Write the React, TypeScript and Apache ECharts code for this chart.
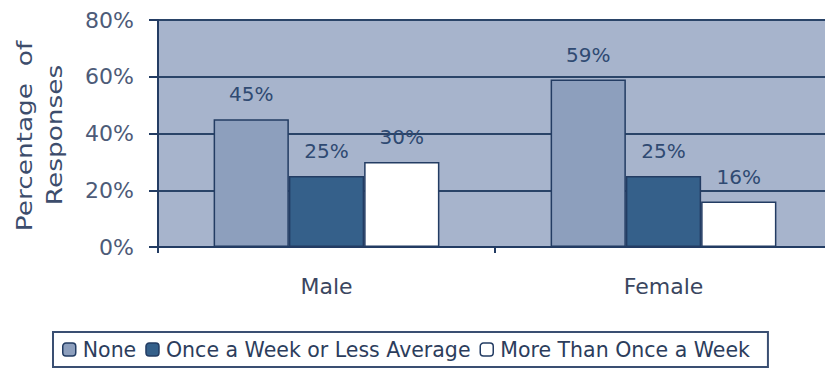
import React, { useEffect, useRef } from "react";
import * as echarts from "echarts";

const categories = ["Male", "Female"];
const seriesNames = ["None", "Once a Week or Less Average", "More Than Once a Week"];
const noneValues = [45, 59];
const onceValues = [25, 25];
const moreValues = [30, 16];
const yTicks = [0, 20, 40, 60, 80];

const FONT = "DejaVu Sans";
const NAVY = "#233c63";

export default function App() {
  const ref = useRef<HTMLDivElement>(null);
  useEffect(() => {
    if (!ref.current) return;
    const chart = echarts.init(ref.current, null, { renderer: "svg" });
    const colors = ["#8d9fbd", "#35608a", "#ffffff"];
    const data = [noneValues, onceValues, moreValues];
    chart.setOption({
      animation: false,
      backgroundColor: "#ffffff",
      grid: {
        left: 158,
        top: 20,
        width: 674,
        height: 227,
        show: true,
        backgroundColor: "#a7b4cc",
        borderWidth: 0,
      },
      legend: {
        bottom: 2,
        left: 53,
        itemWidth: 13,
        itemHeight: 13,
        itemGap: 9,
        padding: [7, 18, 7, 9],
        borderColor: "#3a4f72",
        borderWidth: 2,
        borderRadius: 0,
        textStyle: { fontFamily: FONT, fontSize: 20.5, color: "#2c3d5c", padding: [0, 0, 0, 2] },
        data: seriesNames.map((n, i) => ({
          name: n,
          itemStyle: { color: colors[i], borderColor: NAVY, borderWidth: 1.5 },
        })),
      },
      xAxis: {
        type: "category",
        data: categories,
        axisLine: { show: true, lineStyle: { color: NAVY, width: 2 } },
        axisTick: { show: true, length: 6, lineStyle: { color: NAVY, width: 2 } },
        axisLabel: { fontFamily: FONT, fontSize: 22, color: "#3a4660", margin: 28 },
      },
      yAxis: {
        type: "value",
        min: 0,
        max: 80,
        interval: 20,
        axisLine: { show: true, lineStyle: { color: NAVY, width: 2 } },
        axisTick: { show: true, length: 9, lineStyle: { color: NAVY, width: 2 } },
        splitLine: { show: true, lineStyle: { color: "#2a4468", width: 2 } },
        axisLabel: {
          fontFamily: FONT,
          fontSize: 22,
          color: "#4d5b78",
          margin: 24,
          formatter: (v: number) => (yTicks.includes(v) ? v + "%" : ""),
        },
      },
      graphic: [
        {
          type: "text",
          x: 24,
          y: 136,
          rotation: Math.PI / 2,
          scaleX: 1.2,
          style: {
            text: "Percentage  of",
            font: `22px "${FONT}"`,
            fill: "#3d4d6c",
            align: "center",
            verticalAlign: "middle",
          },
        },
        {
          type: "text",
          x: 54,
          y: 135,
          rotation: Math.PI / 2,
          scaleX: 1.2,
          style: {
            text: "Responses",
            font: `22px "${FONT}"`,
            fill: "#3d4d6c",
            align: "center",
            verticalAlign: "middle",
          },
        },
      ],
      series: seriesNames.map((name, i) => ({
        name,
        type: "bar",
        data: data[i],
        barGap: "0%",
        barCategoryGap: "33%",
        itemStyle: { color: colors[i], borderColor: NAVY, borderWidth: 1.5 },
        label: {
          show: true,
          position: "top",
          distance: 15,
          formatter: "{c}%",
          fontFamily: FONT,
          fontSize: 20,
          color: "#2f4a72",
        },
      })),
    });
    return () => chart.dispose();
  }, []);
  return (
    <div style={{ position: "fixed", left: 0, top: 0, width: 825, height: 369, overflow: "hidden" }}>
      <div ref={ref} style={{ width: 840, height: 369 }} />
    </div>
  );
}
